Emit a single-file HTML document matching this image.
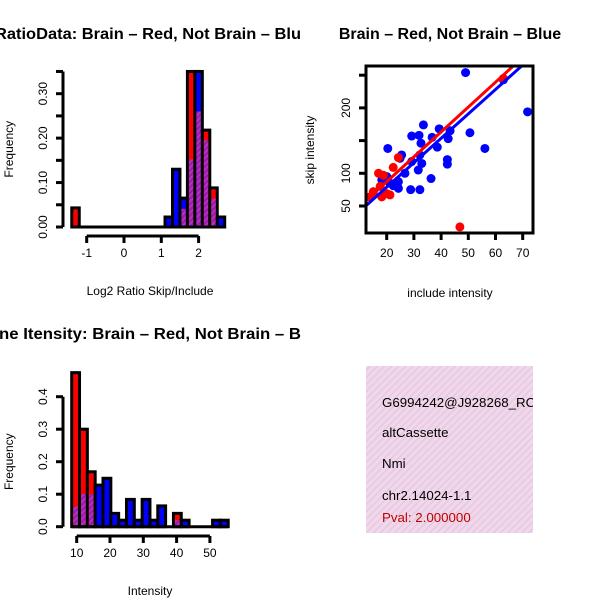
<!DOCTYPE html>
<html><head><meta charset="utf-8"><style>
body{margin:0;background:#fff}
svg{display:block;font-family:"Liberation Sans",sans-serif}
</style></head><body>
<svg id="c" width="600" height="600" viewBox="0 0 600 600">
<defs>
<pattern id="purp" patternUnits="userSpaceOnUse" width="4" height="4" patternTransform="rotate(45)">
<rect width="4" height="4" fill="#9a1fa8"/><rect width="1.5" height="4" fill="#c030c8"/></pattern>
<pattern id="pink" patternUnits="userSpaceOnUse" width="5" height="5" patternTransform="rotate(45)">
<rect width="5" height="5" fill="#f4d4ee"/><rect width="1.5" height="5" fill="#dcd0d6"/></pattern>
<clipPath id="cl2"><rect x="366" y="66" width="167" height="167"/></clipPath>
<clipPath id="cl3"><rect x="366" y="366" width="167" height="167"/></clipPath>
</defs>
<g id="p1"></g>
<g id="p2"></g>
<g id="p3"></g>
<g clip-path="url(#cl3)" font-size="13.3">
<rect x="366" y="366" width="167" height="167" fill="url(#pink)"/>
<text x="382" y="407">G6994242@J928268_RC</text>
<text x="382" y="437">altCassette</text>
<text x="382" y="468">Nmi</text>
<text x="382" y="500">chr2.14024-1.1</text>
<text x="382" y="522" fill="#c00000">Pval: 2.000000</text>
</g>
</svg>
<script>
// Histogram 1 data
const h1Starts=[-1.4,1.1,1.3,1.5,1.7,1.9,2.1,2.3,2.5];
const h1Red=[0.043,0,0,0.041,0.35,0.26,0.218,0.088,0];
const h1Blue=[0,0.0225,0.13,0.065,0.152,0.35,0.195,0.064,0.0225];
const h1XTicks=[-1,0,1,2];
const h1YTicks=[0,0.05,0.1,0.15,0.2,0.25,0.3,0.35];
// Scatter data
const blueX=[49,71.8,33.5,39.3,43.3,50.6,29.2,31.9,32.6,36.7,42.6,38.6,56.1,20.4,25.5,24.9,32.2,29.2,32.9,42.3,42.3,31.6,26.7,36.3,20,18.2,21.2,24.3,24.3,28.8,32.2,22.4,62.9];
const blueY=[254,194,174,168,165,162,157,158,146,155,153,140,138,138,128,123,128,118,115,121,114,105,100,92,95,90,85,87,77,75,75,81,243];
const redX=[46.9,24.3,22.4,17,18.8,15.1,13.9,18.2,21.2,17.6,20,62.9];
const redY=[18,124,109,100,97,72,64,64,67,80,69,245];
const blueLine=[[12,49],[69.6,264]];
const redLine=[[12.6,59],[66.5,264]];
const scXTicks=[20,30,40,50,60,70];
const scYTicks=[50,100,150,200,250];
const scYLabels=["50","100","","200",""];
// Histogram 2 data
const h2Start=8.5, h2Width=2.35;
const h2Red=[0.474,0.30,0.169,0,0,0,0,0,0,0,0,0,0,0.041,0,0,0,0,0,0];
const h2Blue=[0.062,0.10,0.10,0.128,0.149,0.041,0.02,0.084,0.02,0.084,0.02,0.064,0,0.02,0.02,0,0,0,0.02,0.02];
const h2XTicks=[10,20,30,40,50];
const h2YTicks=[0,0.1,0.2,0.3,0.4];

const NS="http://www.w3.org/2000/svg";
function mk(par,tag,at,name){const e=document.createElementNS(NS,tag);for(const k in at)e.setAttribute(k,at[k]);


par.appendChild(e);return e;}
function txt(par,x,y,s,name,extra){const t=mk(par,'text',Object.assign({x:x,y:y,'font-size':12},extra||{}),name);t.textContent=s;return t;}

function histo(g,bins,X,Y,xt,xtl,yt,ytl,axX,axY,title,xlab,titleX,titleY,titleLen){
  const w=3;
  bins.forEach((b,i)=>{
    const hi=Math.max(b.r,b.b),lo=Math.min(b.r,b.b);
    if(hi<=0){return;}
    const x0=X(b.a),x1=X(b.e);
    mk(g,'rect',{x:x0,y:Y(hi),width:x1-x0,height:Y(0)-Y(hi),fill:b.r>=b.b?'#ff0000':'#0000ff',stroke:'#000','stroke-width':w},'bar-'+i);
    if(lo>0) mk(g,'rect',{x:x0+w/2,y:Y(lo),width:x1-x0-w,height:Y(0)-Y(lo)-w/2,fill:'url(#purp)'},'overlap-bar-'+i);
  });
  mk(g,'line',{x1:X(bins[0].a),x2:X(bins[bins.length-1].e),y1:Y(0),y2:Y(0),stroke:'#000','stroke-width':w},'baseline');
  mk(g,'line',{x1:X(xt[0]),x2:X(xt[xt.length-1]),y1:axY,y2:axY,stroke:'#000','stroke-width':w},'x-axis');
  xt.forEach((v,i)=>{mk(g,'line',{x1:X(v),x2:X(v),y1:axY,y2:axY+7,stroke:'#000','stroke-width':w},'x-tick');
    txt(g,X(v),axY+21,xtl[i],'x-tick-label',{'text-anchor':'middle'});});
  mk(g,'line',{x1:axX,x2:axX,y1:Y(yt[0]),y2:Y(yt[yt.length-1]),stroke:'#000','stroke-width':w},'y-axis');
  yt.forEach((v,i)=>{mk(g,'line',{x1:axX-7,x2:axX,y1:Y(v),y2:Y(v),stroke:'#000','stroke-width':w},'y-tick');
    if(ytl[i]) txt(g,axX-16,Y(v),ytl[i],'y-tick-label',{'text-anchor':'middle',transform:`rotate(-90 ${axX-16} ${Y(v)})`});});
  txt(g,0,0,'Frequency','y-axis-title',{'text-anchor':'middle',transform:`translate(13 ${(Y(yt[0])+Y(yt[yt.length-1]))/2}) rotate(-90)`});
  txt(g,150,axY+59,xlab,'x-axis-title',{'text-anchor':'middle'});
  txt(g,titleX,titleY,title,'plot-title',{'font-size':16,'font-weight':'bold',textLength:titleLen,lengthAdjust:'spacingAndGlyphs'});
}
// Panel 1
{const g=document.getElementById('p1');
 const X=v=>124+v*37.3, Y=v=>227-v*444.4;
 const bins=h1Starts.map((a,i)=>({a:a,e:a+0.2,r:h1Red[i],b:h1Blue[i]}));
 histo(g,bins,X,Y,h1XTicks,h1XTicks.map(String),h1YTicks,["0.00","","0.10","","0.20","","0.30",""],63,236,
 'RatioData: Brain \u2013 Red, Not Brain \u2013 Blu','Log2 Ratio Skip/Include',-5,39,306);}
// Panel 3
{const g=document.getElementById('p3');
 const X=v=>76.7+(v-10)*3.33, Y=v=>526.7-v*325;
 const bins=h2Red.map((r,i)=>({a:h2Start+i*h2Width,e:h2Start+(i+1)*h2Width,r:r,b:h2Blue[i]}));
 histo(g,bins,X,Y,h2XTicks,h2XTicks.map(String),h2YTicks,["0.0","0.1","0.2","0.3","0.4"],63,536,
 'ne Itensity: Brain \u2013 Red, Not Brain \u2013 B','Intensity',-1,339,302);}
// Scatter
{const g=document.getElementById('p2');
 const X=v=>386.7+(v-20)*2.72, Y=v=>206-(v-50)*0.654;
 const pg=mk(g,'g',{'clip-path':'url(#cl2)'},'plot-area');
 blueX.forEach((x,i)=>mk(pg,'circle',{cx:X(x),cy:Y(blueY[i]),r:4.5,fill:'#0000ff'},'blue-point'));
 redX.forEach((x,i)=>mk(pg,'circle',{cx:X(x),cy:Y(redY[i]),r:4.5,fill:'#ff0000'},'red-point'));
 mk(pg,'line',{x1:X(blueLine[0][0]),y1:Y(blueLine[0][1]),x2:X(blueLine[1][0]),y2:Y(blueLine[1][1]),stroke:'#0000ff','stroke-width':3},'blue-fit-line');
 mk(pg,'line',{x1:X(redLine[0][0]),y1:Y(redLine[0][1]),x2:X(redLine[1][0]),y2:Y(redLine[1][1]),stroke:'#ff0000','stroke-width':3},'red-fit-line');
 mk(g,'rect',{x:366,y:66,width:167,height:167,fill:'none',stroke:'#000','stroke-width':3},'plot-frame');
 scXTicks.forEach(v=>{mk(g,'line',{x1:X(v),x2:X(v),y1:233,y2:240,stroke:'#000','stroke-width':3},'x-tick');
   txt(g,X(v),257,String(v),'x-tick-label',{'text-anchor':'middle'});});
 scYTicks.forEach((v,i)=>{mk(g,'line',{x1:359,x2:366,y1:Y(v),y2:Y(v),stroke:'#000','stroke-width':3},'y-tick');
   if(scYLabels[i]) txt(g,350,Y(v),scYLabels[i],'y-tick-label',{'text-anchor':'middle',transform:`rotate(-90 350 ${Y(v)})`});});
 txt(g,450,297,'include intensity','x-axis-title',{'text-anchor':'middle'});
 txt(g,0,0,'skip intensity','y-axis-title',{'text-anchor':'middle',transform:'translate(314 150) rotate(-90)'});
 txt(g,450,39,'Brain \u2013 Red, Not Brain \u2013 Blue','plot-title',{'text-anchor':'middle','font-size':16,'font-weight':'bold'});}
</script>
</body></html>
